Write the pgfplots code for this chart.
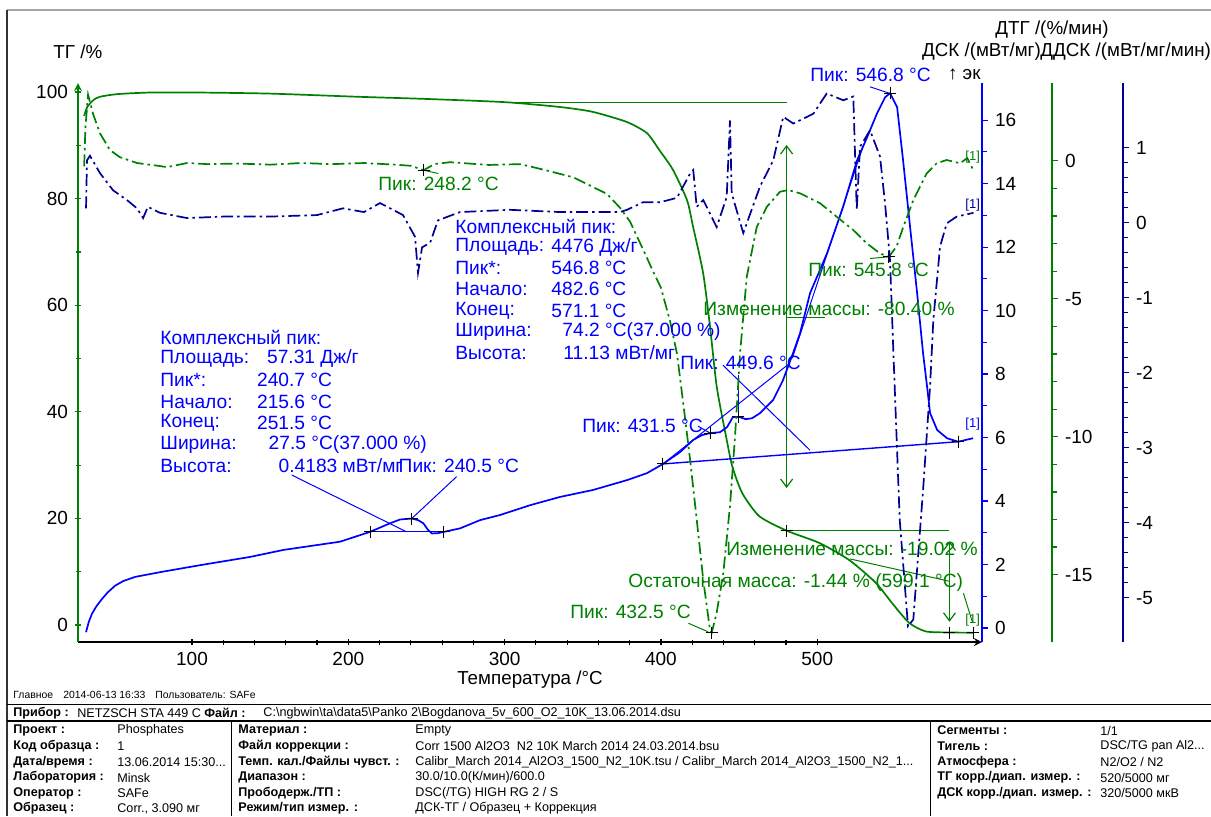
\documentclass[border=0pt]{standalone}
\usepackage{fontspec}
\setmainfont{Liberation Sans}
\usepackage{pgfplots}
\pgfplotsset{compat=1.18}
\usetikzlibrary{arrows.meta}
\definecolor{tgg}{RGB}{0,128,0}
\definecolor{dscb}{RGB}{0,0,255}
\definecolor{ddb}{RGB}{0,0,150}
\newcommand{\af}{\fontsize{9.6}{11}\selectfont}
\newcommand{\lf}{\fontsize{9.4}{11}\selectfont}
\newcommand{\tf}{\fontsize{6.3}{7}\selectfont}
\newcommand{\hf}{\fontsize{5.2}{6}\selectfont}
\pgfplotsset{
  base/.style={
    scale only axis, height=279.5pt, at={(39pt,-321pt)}, anchor=south west,
    xmin=27.06, clip=true,
    tick label style={font=\fontsize{9.5}{11}\selectfont},
    tick align=outside, major tick length=3pt, minor tick length=2.5pt,
    axis line style={-, line width=0.8pt},
  },
  crv/.style={line width=0.85pt},
  dd/.style={line width=0.85pt, dash pattern=on 6pt off 2pt on 1.2pt off 2pt},
  cr/.style={black, only marks, mark=+, mark size=3pt, mark options={line width=0.5pt, solid}},
  thn/.style={line width=0.5pt},
  arr/.style={line width=0.6pt, arrows={Straight Barb[length=4pt,width=6pt]-Straight Barb[length=4pt,width=6pt]}},
}
\begin{document}
\begin{tikzpicture}
% ---------------- TG (main) ----------------
\begin{axis}[base, width=452pt, xmax=605.4, ymin=-3.19, ymax=101.69,
  axis x line=bottom, axis y line=left,
  x axis line style={black}, y axis line style={tgg},
  xtick style={black, line width=0.6pt}, ytick style={tgg, line width=0.6pt},
  xtick={100,200,300,400,500}, xticklabels={100,200,300,400,500}, minor x tick num=4,
  ytick={0,20,40,60,80,100}, yticklabels={0,20,40,60,80,100}, minor y tick num=1]
\addplot[tgg, crv, smooth, tension=0.4] coordinates {
(31,95.5) (33,97.2) (37,98.5) (41,99.1) (52,99.6) (73,99.9) (105,99.9) (150,99.7)
(207,99.1) (250,98.7) (300,98.1) (335,97.2) (356,96.3) (378,94.4) (391,92.3) (399,89.1)
(407.7,85.4) (416.7,79.7) (420.5,74.8) (427,66.0) (431.4,56.0) (435.7,44.7) (441.7,35.3)
(445.7,29.7) (452.1,24.7) (463,20.4) (480.4,17.7) (501.3,15.4) (520.4,12.2) (537.5,7.9)
(547.9,4.1) (558.8,0.4) (569.4,-1.2) (584.3,-1.4) (599.9,-1.44)};
\addplot[tgg, thn] coordinates {(300,98.0) (480.4,98.0)};
\addplot[tgg, arr] coordinates {(480.4,90.06) (480.4,25.7)};
\addplot[tgg, thn] coordinates {(480.4,57.7) (505,57.7)};
\addplot[tgg, thn] coordinates {(480.4,17.8) (584.6,17.8)};
\addplot[tgg, arr] coordinates {(584.6,15.7) (584.6,0.6)};
\addplot[tgg, thn] coordinates {(521,12.4) (584.6,8.2)};
\addplot[tgg, thn] coordinates {(593.5,6.0) (599.2,0.6)};
\addplot[cr] coordinates {(480.4,17.7) (584.6,-1.44) (599.7,-1.44)};
\end{axis}
% ---------------- DSC ----------------
\begin{axis}[base, width=452pt, xmax=605.4, ymin=-0.44, ymax=17.17,
  hide x axis, axis y line*=right, y axis line style={dscb}, ytick style={dscb, line width=0.6pt},
  ytick={0,2,4,6,8,10,12,14,16}, yticklabels={0,2,4,6,8,10,12,14,16}, minor y tick num=1]
\addplot[dscb, crv] coordinates {
(32.2,-0.13) (34,0.2) (36,0.45) (38.5,0.66) (41.8,0.88) (46,1.12) (50.7,1.33) (56,1.48) (63.5,1.61) (79.5,1.76) (105.1,1.98)
(137.1,2.24) (158.4,2.46) (194.7,2.72) (213.9,3.03) (226.7,3.3) (233.1,3.42) (240.6,3.45)
(244.6,3.40) (248,3.3) (251,3.09) (253.5,2.98) (257.4,2.99) (261.2,3.03) (271.5,3.14)
(284.3,3.4) (297,3.56) (316.3,3.87) (335.4,4.13) (356.6,4.35) (378.3,4.66) (391.1,4.88)
(401.3,5.17) (412.2,5.54) (420.5,5.92) (426.3,6.08) (431.4,6.14) (437.8,6.17) (442.3,6.33)
(446.1,6.65) (450,6.65) (454.4,6.58) (458.3,6.61) (463.4,6.77) (471.7,7.18) (478.1,7.81)
(484.5,8.66) (489,9.29) (495.4,10.55) (506.3,11.81) (516.5,13.26) (525.5,14.74) (531.9,15.46)
(538.3,16.22) (543.4,16.72) (546.6,16.85) (551.1,16.41) (554.9,14.74) (559.4,12.63)
(563.9,10.55) (567.7,8.66) (570.3,7.59) (572.2,6.77) (576.7,6.24) (583,5.98) (590.1,5.87)
(599.7,5.98)};
\addplot[dscb, thn] coordinates {(213.9,3.03) (261.2,3.03)};
\addplot[dscb, line width=0.7pt] coordinates {(401.3,5.17) (590.1,5.87)};
\addplot[dscb, thn] coordinates {(401.3,5.17) (482.6,8.35)};
\addplot[dscb, thn] coordinates {(484,8.5) (529.5,15.2)};
\addplot[dscb, thn] coordinates {(449.6,6.65) (449.6,7.97)};
\addplot[dscb, thn] coordinates {(439.7,8.28) (495.4,5.6)};
\addplot[dscb, thn] coordinates {(163.8,4.82) (237.3,3.03)};
\addplot[dscb, thn] coordinates {(269.3,4.77) (240.6,3.45)};
\addplot[dscb, thn] coordinates {(533.8,17.05) (546.6,16.84)};
\addplot[dscb, thn] coordinates {(423.7,6.36) (431.5,6.14)};
\addplot[cr] coordinates {(213.9,3.03) (240.5,3.45) (261.2,3.03) (401.3,5.17) (431.5,6.14)
(449.6,6.65) (546.8,16.85) (590.1,5.87)};
\end{axis}
% ---------------- DTG ----------------
\begin{axis}[base, width=487pt, xmax=650.2, ymin=-17.44, ymax=2.82,
  hide x axis, axis y line*=right, y axis line style={tgg}, ytick style={tgg, line width=0.6pt},
  ytick={-15,-10,-5,0}, yticklabels={-15,-10,-5,0}, minor y tick num=4]
\addplot[tgg, dd] coordinates {
(31.0,-0.2) (31.8,1.2) (33.5,2.4) (36.7,1.7) (41.1,1.0) (47.5,0.39) (53.9,0.13) (64.8,-0.08)
(79.5,-0.19) (84,-0.23) (96.8,-0.08) (110,-0.12) (130,-0.1) (150,-0.14) (170,-0.08) (190,-0.12)
(210,-0.08) (230,-0.14) (240,-0.18) (248.2,-0.34) (255,-0.12) (265,-0.05) (290,-0.15) (310,-0.12)
(327,-0.35) (344,-0.6) (356.6,-0.95) (365.5,-1.2) (373.8,-1.7) (380.2,-2.2) (388.5,-3.2)
(394.9,-4.0) (400,-4.6) (405.8,-5.8) (410.3,-7.0) (414.3,-8.8) (418.6,-10.8) (422.9,-13.0)
(427.1,-15.2) (431.4,-17.0) (432.5,-17.1) (435.6,-16.4) (439.9,-14.95) (444.2,-12.5)
(447.4,-10.0) (450.6,-7.0) (454.9,-4.2) (461.3,-2.4) (467.7,-1.67) (476.2,-1.12) (481.5,-1.06)
(489.1,-1.18) (501.9,-1.54) (512.5,-2.03) (523.1,-2.51) (531.7,-2.99) (540.2,-3.36)
(545.8,-3.48) (550.8,-3.1) (555.1,-2.39) (561.5,-1.42) (570,-0.46) (576.4,-0.09) (582.8,0.03)
(591.4,-0.09) (596,0.1) (599.5,-0.3)};
\addplot[tgg, thn] coordinates {(417.6,-16.76) (430.2,-17.07)};
\addplot[tgg, thn] coordinates {(533.8,-3.54) (545.8,-3.48)};
\addplot[tgg, thn] coordinates {(248.2,-0.34) (257.5,-0.46)};
\addplot[cr] coordinates {(248.2,-0.34) (432.5,-17.1) (545.8,-3.48)};
\end{axis}
% ---------------- DDSC ----------------
\begin{axis}[base, width=522.5pt, xmax=695.66, ymin=-5.59, ymax=1.86,
  hide x axis, axis y line*=right, y axis line style={ddb}, ytick style={ddb, line width=0.6pt},
  ytick={-5,-4,-3,-2,-1,0,1}, yticklabels={-5,-4,-3,-2,-1,0,1}, minor y tick num=4]
\addplot[ddb, dd] coordinates {
(32.2,0.19) (32.8,0.83) (34.7,0.89) (41.1,0.66) (49.5,0.43) (58.4,0.30) (64.8,0.19) (68.7,0.06)
(71.8,0.21) (79.5,0.13) (96.8,0.06) (120,0.08) (150,0.08) (180,0.1) (196.6,0.19) (210,0.14)
(220.3,0.26) (235,0.1) (242.7,-0.19) (244.6,-0.67) (247.2,-0.33) (252.3,-0.27) (257.4,0.03)
(271.5,0.14) (303.5,0.17) (335.5,0.14) (373.8,0.14) (378.3,0.17) (388.5,0.27) (399.4,0.27)
(410.3,0.33) (418.6,0.65) (420.7,0.7) (422.9,0.21) (427.1,0.3) (435.7,-0.06) (442.1,0.34)
(444.2,1.36) (445.3,0.39) (452.7,-0.14) (463.4,0.48) (471.9,0.83) (478.3,1.41) (484.7,1.32)
(497.5,1.45) (506.1,1.72) (516.7,1.63) (523.1,1.68) (525.3,0.17) (527.4,1.01) (533.8,1.23)
(540.2,0.88) (543.4,0.26) (546.6,-0.5) (548.7,-1.7) (552.8,-3.96) (558.1,-5.38) (561.5,-5.29)
(567.9,-3.52) (572.2,-2.19) (574.3,-1.3) (578.6,-0.32) (582.9,-0.01) (589.3,0.08) (600,0.13)};
\end{axis}
% ---------------- texts (pixel coordinates) ----------------
\begin{scope}[x=0.5pt,y=-0.5pt]
\draw[gray!70, line width=1pt] (7,10) -- (1211,10);
\draw[black!80, line width=0.6pt] (7,10) -- (7,816);
% axis titles
\node[anchor=west, inner sep=0, font=\lf] at (53,51.7) {ТГ /\%};
\node[anchor=west, inner sep=0, font=\lf] at (995,30) {ДТГ /(\%/мин)};
\node[anchor=west, inner sep=0, font=\lf] at (921.7,51.7) {ДСК /(мВт/мг)};
\node[anchor=west, inner sep=0, font=\lf] at (1040,51.7) {ДДСК /(мВт/мг/мин)};
\node[anchor=west, inner sep=0, font=\lf] at (947.7,74) {↑ эк};
\node[inner sep=0, font=\lf] at (530,680) {Температура /°C};
% left complex peak block
\begin{scope}[every node/.style={anchor=west, inner sep=0, font=\af, text=dscb}]
\node at (160,337) {Комплексный пик:};
\node at (160,358.5) {Площадь:};   \node at (266.7,358.5) {57.31 Дж/г};
\node at (160,380) {Пик*:};        \node at (256.7,380) {240.7 °C};
\node at (160,401.5) {Начало:};    \node at (256.7,401.5) {215.6 °C};
\node at (160,423) {Конец:};       \node at (256.7,423) {251.5 °C};
\node at (160,444.5) {Ширина:};    \node at (268.3,444.5) {27.5 °C(37.000 \%)};
\node at (160,466) {Высота:};      \node at (278.3,466) {0.4183 мВт/мг};
\node at (398.3,466) {Пик: 240.5 °C};
% right complex peak block
\node at (455,226) {Комплексный пик:};
\node at (455,247) {Площадь:};   \node at (551,247) {4476 Дж/г};
\node at (455,268) {Пик*:};      \node at (551,268) {546.8 °C};
\node at (455,289) {Начало:};    \node at (551,289) {482.6 °C};
\node at (455,310.5) {Конец:};   \node at (551,310.5) {571.1 °C};
\node at (455,332) {Ширина:};    \node at (562,332) {74.2 °C(37.000 \%)};
\node at (455,353) {Высота:};    \node at (563,353) {11.13 мВт/мг};
\node at (810,75) {Пик: 546.8 °C};
\node at (680,363) {Пик: 449.6 °C};
\node at (582,426) {Пик: 431.5 °C};
\node[font=\fontsize{6.5}{7}\selectfont] at (965,424) {[1]};
\end{scope}
\node[anchor=west, inner sep=0, font=\fontsize{6.5}{7}\selectfont, text=ddb] at (965,205) {[1]};
\begin{scope}[every node/.style={anchor=west, inner sep=0, font=\af, text=tgg}]
\node at (378,184) {Пик: 248.2 °C};
\node at (808,270) {Пик: 545.8 °C};
\node at (703,308.5) {Изменение массы: -80.40 \%};
\node at (726,549) {Изменение массы: -19.02 \%};
\node at (628,583) {Остаточная масса: -1.44 \% (599.1 °C)};
\node at (570,612) {Пик: 432.5 °C};
\node[font=\fontsize{6.5}{7}\selectfont] at (965,157) {[1]};
\node[font=\fontsize{6.5}{7}\selectfont] at (965,620) {[1]};
\end{scope}
% ---------------- info table ----------------
\draw[black, line width=0.5pt] (7,704.5) -- (1211,704.5);
\draw[black, line width=0.8pt] (7,721) -- (1211,721);
\draw[black, line width=0.5pt] (231,721) -- (231,816);
\draw[black, line width=0.5pt] (930,721) -- (930,816);
\begin{scope}[every node/.style={anchor=west, inner sep=0, font=\hf}]
\node at (13,695) {Главное};
\node at (63,695) {2014-06-13 16:33};
\node at (155,695) {Пользователь: SAFe};
\end{scope}
\begin{scope}[every node/.style={anchor=west, inner sep=0, font=\tf}]
\node at (13,713) {\bfseries Прибор :};
\node at (77,713) {NETZSCH STA 449 C};
\node at (204,713) {\bfseries Файл :};
\node at (263,713) {C:\textbackslash ngbwin\textbackslash ta\textbackslash data5\textbackslash Panko 2\textbackslash Bogdanova\_5v\_600\_O2\_10K\_13.06.2014.dsu};
% column 1
\node at (13,730.5) {\bfseries Проект :};       \node at (117,730.5) {Phosphates};
\node at (13,746) {\bfseries Код образца :};    \node at (117,746) {1};
\node at (13,762) {\bfseries Дата/время :};     \node at (117,762) {13.06.2014 15:30...};
\node at (13,777.5) {\bfseries Лаборатория :};  \node at (117,777.5) {Minsk};
\node at (13,793) {\bfseries Оператор :};       \node at (117,793) {SAFe};
\node at (13,808.5) {\bfseries Образец :};      \node at (117,808.5) {Corr., 3.090 мг};
% column 2
\node at (238,730.5) {\bfseries Материал :};    \node at (415,730.5) {Empty};
\node at (238,746) {\bfseries Файл коррекции :}; \node at (415,746) {Corr 1500 Al2O3\ \ N2 10K March 2014 24.03.2014.bsu};
\node at (238,762) {\bfseries Темп. кал./Файлы чувст. :}; \node at (415,762) {Calibr\_March 2014\_Al2O3\_1500\_N2\_10K.tsu / Calibr\_March 2014\_Al2O3\_1500\_N2\_1...};
\node at (238,777.5) {\bfseries Диапазон :};    \node at (415,777.5) {30.0/10.0(К/мин)/600.0};
\node at (238,793) {\bfseries Прободерж./ТП :}; \node at (415,793) {DSC(/TG) HIGH RG 2 / S};
\node at (238,808.5) {\bfseries Режим/тип измер. :}; \node at (415,808.5) {ДСК-ТГ / Образец + Коррекция};
% column 3
\node at (937,730.5) {\bfseries Сегменты :};    \node at (1100,730.5) {1/1};
\node at (937,746) {\bfseries Тигель :};        \node at (1100,746) {DSC/TG pan Al2...};
\node at (937,762) {\bfseries Атмосфера :};     \node at (1100,762) {N2/O2 / N2};
\node at (937,777.5) {\bfseries ТГ корр./диап. измер. :}; \node at (1100,777.5) {520/5000 мг};
\node at (937,793) {\bfseries ДСК корр./диап. измер. :}; \node at (1100,793) {320/5000 мкВ};
\end{scope}
\end{scope}
\pgfresetboundingbox
\path[use as bounding box] (0pt,0pt) rectangle (605.5pt,-408pt);
\end{tikzpicture}
\end{document}
